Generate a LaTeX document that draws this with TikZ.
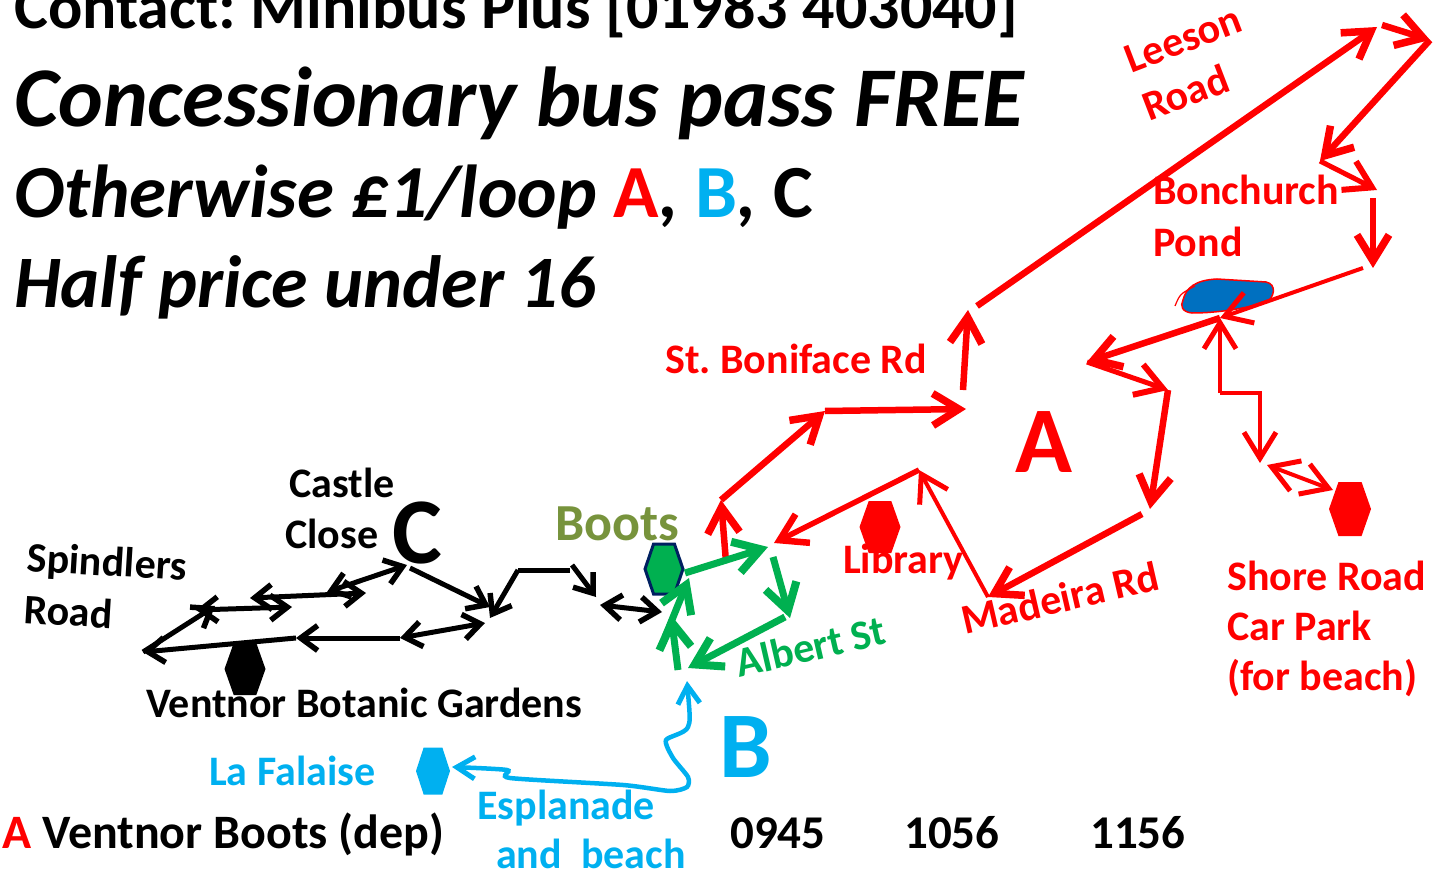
\documentclass[tikz,border=0pt]{standalone}
\usepackage{fontspec}
\setmainfont{Carlito}
\usetikzlibrary{arrows.meta}

\definecolor{routeA}{HTML}{FF0000}
\definecolor{routeB}{HTML}{00B0F0}
\definecolor{albert}{HTML}{00B050}
\definecolor{bootsol}{HTML}{77933C}
\definecolor{navy}{HTML}{002060}
\definecolor{pondblue}{HTML}{0070C0}
\newcommand\fsz[1]{\fontsize{#1}{#1}\selectfont}

\tikzset{
  lbl/.style={inner sep=0pt, anchor=base west, font=\bfseries\fsz{42}},
  redA/.style={draw=routeA, line width=6.5pt, >={Straight Barb[length=26pt,width=32pt,line width=1pt 1]}, ->},
  redthin/.style={redA, line width=4pt},
  blkC/.style={draw=black, line width=5pt, >={Straight Barb[length=17pt,width=25pt,line width=0.5pt 1]}, ->},
  grnAl/.style={draw=albert, line width=7pt, >={Straight Barb[length=26pt,width=32pt,line width=1pt 1]}, ->},
  bluB/.style={draw=routeB, line width=4.5pt, >={Straight Barb[length=18pt,width=22pt,line width=0.5pt 1]}, <->},
  pics/busstop/.style={code={\path[pic actions] (-1,0) -- (-0.55,-1) -- (0.55,-1) -- (1,0) -- (0.55,1) -- (-0.55,1) -- cycle;}}
}

\begin{document}
\frenchspacing
\begin{tikzpicture}[x=1pt, y=-1pt]
\fill[white] (0,0) rectangle (1433,869);
\useasboundingbox (0,0) rectangle (1433,869);

% Heading
\node[lbl, font=\bfseries\fsz{64}] (contact) at (14,29) {Contact: Minibus Plus [01983 403040]};
\node[lbl, font=\bfseries\itshape\fsz{85}] (pass) at (14,127) {Concessionary bus pass FREE};
\node[lbl, font=\bfseries\itshape\fsz{75}] (fare) at (14,218) {Otherwise £1/loop \textcolor{routeA}{\upshape A}, \textcolor{routeB}{\upshape B}, {\upshape C}};
\node[lbl, font=\bfseries\itshape\fsz{74}] (half) at (14,308) {Half price under 16};

% Bus stops
\pic[fill=black, xscale=20.5, yscale=26] (stopgardens) at (245,669) {busstop};
\pic[fill=albert, draw=navy, line width=3pt, xscale=19, yscale=25] (stopboots) at (664,569) {busstop};
\pic[fill=routeA, xscale=20.5, yscale=26] (stoplibrary) at (880,527) {busstop};
\pic[fill=routeA, xscale=21, yscale=27] (stopshore) at (1350,509) {busstop};
\pic[fill=routeB, xscale=17, yscale=23.5] (stopfalaise) at (433,771) {busstop};

% Bonchurch pond
\filldraw[fill=pondblue, draw=routeA, line width=1.5pt] (1183,300) .. controls (1186,288) and (1195,280) .. (1217,279) -- (1266,282) .. controls (1277,284) and (1275,298) .. (1265,303) .. controls (1245,308) and (1220,313) .. (1192,313) .. controls (1182,312) and (1180,306) .. cycle;
\draw[routeA, line width=1.2pt] (1175,306) .. controls (1180,294) .. (1195,286);

% Route A points
\coordinate (a1) at (726,562); \coordinate (a2) at (721,500); \coordinate (a3) at (825,411);
\coordinate (a4) at (966,409); \coordinate (a5) at (963,390); \coordinate (a6) at (968,310);
\coordinate (a7) at (977,306); \coordinate (leeson) at (1377,27); \coordinate (a9) at (1382,25);
\coordinate (a10) at (1430,40); \coordinate (a11) at (1320,161); \coordinate (a12) at (1377,190);
\coordinate (a13) at (1373,198); \coordinate (a14) at (1373,268); \coordinate (a15) at (1363,268);
\coordinate (pondpt) at (1220,318); \coordinate (a16) at (1087,362); \coordinate (a17) at (1168,390);
\coordinate (a18) at (1150,509); \coordinate (a19) at (1142,514); \coordinate (madeira) at (988,597);
\coordinate (a20) at (919,470); \coordinate (a21) at (774,543);
\coordinate (s1) at (1220,393); \coordinate (s2) at (1260,393); \coordinate (s3) at (1260,463);
\coordinate (s4) at (1267,465); \coordinate (s5) at (1333,490);

\draw[redA] (a1) -- (a2);
\draw[redA] (a2) -- (a3);
\draw[redA] (a3) -- (a4);
\draw[redA] (a5) -- (a6);
\draw[redA] (a7) -- (leeson);
\draw[redA] (a9) -- (a10);
\draw[redA] (a10) -- (a11);
\draw[redA, line width=5pt] (a11) -- (a12);
\draw[redA] (a13) -- (a14);
\draw[redthin] (a15) -- (pondpt);
\draw[redA] (pondpt) -- (a16);
\draw[redA, line width=5pt] (a16) -- (a17);
\draw[redA] (a17) -- (a18);
\draw[redA] (a19) -- (madeira);
\draw[redthin] (madeira) -- (a20);
\draw[redA, line width=5.5pt] (a20) -- (a21);
\draw[redthin] (s1) -- (pondpt);
\draw[redthin] (s1) -- (s2) -- (s3);
\draw[redthin, <->] (s4) -- (s5);

% Albert St loop
\coordinate (g1) at (685,573); \coordinate (g2) at (768,547); \coordinate (g3) at (773,557);
\coordinate (g4) at (790,618); \coordinate (g5) at (785,617); \coordinate (g6) at (688,668);
\coordinate (g7) at (678,670); \coordinate (g8) at (671,615); \coordinate (g9) at (665,637);
\coordinate (g10) at (689,578);
\draw[grnAl] (g1) -- (g2);
\draw[grnAl] (g3) -- (g4);
\draw[grnAl] (g5) -- (g6);
\draw[grnAl] (g7) -- (g8);
\draw[grnAl] (g9) -- (g10);

% Route B
\coordinate (btop) at (687,681); \coordinate (b1) at (688,727); \coordinate (b2) at (666,740);
\coordinate (b3) at (673,758); \coordinate (b4) at (688,777); \coordinate (b5) at (687,787);
\coordinate (b6) at (670,791); \coordinate (b7) at (623,785); \coordinate (b8) at (510,778);
\coordinate (b9) at (507,770); \coordinate (bfal) at (452,767);
\draw[bluB] plot[smooth, tension=0.4] coordinates {(btop) (b1) (b2) (b3) (b4) (b5) (b6) (b7) (b8) (b9) (bfal)};

% Route C
\coordinate (spind) at (143,652); \coordinate (c1) at (215,606); \coordinate (c2) at (196,610);
\coordinate (c3) at (292,607); \coordinate (c4) at (250,598); \coordinate (c5) at (366,593);
\coordinate (c6) at (327,592); \coordinate (castle) at (407,565); \coordinate (c7) at (410,568);
\coordinate (c8) at (490,607); \coordinate (c9) at (518,570); \coordinate (c10) at (490,618);
\coordinate (c11) at (570,570); \coordinate (c12) at (572,565); \coordinate (c13) at (596,597);
\coordinate (c14) at (600,605); \coordinate (c15) at (662,612); \coordinate (c16) at (400,638);
\coordinate (c17) at (485,623); \coordinate (c18) at (296,638);
\draw[blkC] (spind) -- (c1);
\draw[blkC, <->] (c2) -- (c3);
\draw[blkC, <->] (c4) -- (c5);
\draw[blkC, <->] (c6) -- (castle);
\draw[blkC] (c7) -- (c8);
\draw[blkC] (c9) -- (c10);
\draw[blkC, -] (c9) -- (c11);
\draw[blkC] (c12) -- (c13);
\draw[blkC, <->] (c14) -- (c15);
\draw[blkC, <->] (c16) -- (c17);
\draw[blkC] (c16) -- (c18);
\draw[blkC] (c18) -- (spind);

% Place names
\node[lbl, text=routeA, rotate=21] (leeson1) at (1131,74) {Leeson};
\node[lbl, text=routeA, rotate=21] (leeson2) at (1149,122) {Road};
\node[lbl, text=routeA] (bonch1) at (1153,205) {Bonchurch};
\node[lbl, text=routeA] (bonch2) at (1153,257) {Pond};
\node[lbl, text=routeA] (boniface) at (665,373) {St. Boniface Rd};
\node[lbl, text=routeA] (library) at (843,573) {Library};
\node[lbl, text=routeA, rotate=13] (madeiralbl) at (965,635) {Madeira Rd};
\node[lbl, text=routeA] (shore1) at (1227,590) {Shore Road};
\node[lbl, text=routeA] (shore2) at (1227,640) {Car Park};
\node[lbl, text=routeA] (shore3) at (1227,690) {(for beach)};
\node[lbl, text=albert, rotate=13] (albertlbl) at (739,678) {Albert St};
\node[lbl, text=bootsol, font=\bfseries\fsz{52}] (bootslbl) at (555,540) {Boots};
\node[lbl, rotate=-3.5] (spind1) at (26,571) {Spindlers};
\node[lbl, rotate=-3.5] (spind2) at (23,623) {Road};
\node[lbl] (castle1) at (289,497) {Castle};
\node[lbl] (castle2) at (285,548) {Close};
\node[lbl] (gardens) at (146,717) {Ventnor Botanic Gardens};
\node[lbl, text=routeB] (falaise) at (209,785) {La Falaise};
\node[lbl, text=routeB] (espl1) at (477,819) {Esplanade};
\node[lbl, text=routeB] (espl2) at (496,868) {and\ \ beach};

% Route letters
\node[lbl, text=routeA, font=\bfseries\fsz{94}] (letterA) at (1015,472) {A};
\node[lbl, text=routeB, font=\bfseries\fsz{94}] (letterB) at (719,777) {B};
\node[lbl, font=\bfseries\fsz{94}] (letterC) at (392,563) {C};

% Timetable
\node[lbl, font=\bfseries\fsz{48}] (dep) at (2,848) {\textcolor{routeA}{A} Ventnor Boots (dep)};
\node[lbl, font=\bfseries\fsz{47}] (t1) at (730,848) {0945};
\node[lbl, font=\bfseries\fsz{47}] (t2) at (904,848) {1056};
\node[lbl, font=\bfseries\fsz{47}] (t3) at (1090,848) {1156};
\end{tikzpicture}
\end{document}
